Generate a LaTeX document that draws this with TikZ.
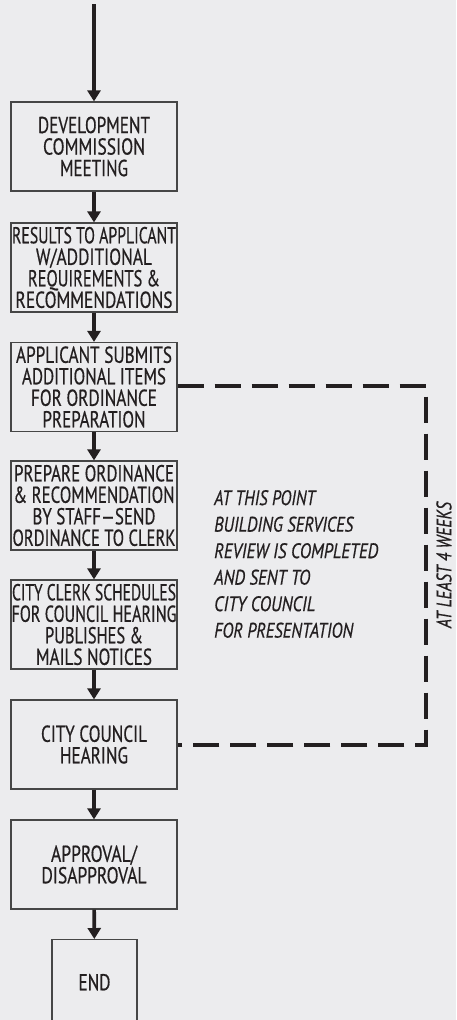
\documentclass[tikz,border=0pt]{standalone}
\usepackage{fontspec}
\usepackage{graphicx}
\setmainfont{PT Sans}[FakeBold=0.6]
\usetikzlibrary{arrows.meta}
\definecolor{bg}{RGB}{236,236,238}
\definecolor{ink}{RGB}{35,31,32}
\definecolor{edge}{RGB}{70,70,70}
\newcommand\fitw[2]{\resizebox{#1pt}{\height}{#2}}
\begin{document}
\begin{tikzpicture}[x=1pt,y=-1pt,
  box/.style={draw=edge, line width=1.2pt, minimum width=166pt, minimum height=89pt,
    inner sep=0pt, align=center, text=ink, font=\fontsize{23}{21.5}\selectfont},
  flow/.style={line width=3.6pt, draw=ink, -{Triangle[length=11pt,width=13pt]}},
  wait/.style={line width=3.2pt, draw=ink, dash pattern=on 26pt off 11pt},
  note/.style={align=left, text=ink, inner sep=0pt, font=\fontsize{21}{26.5}\selectfont\itshape}]
\useasboundingbox (0,0) rectangle (456,1020);
\fill[bg] (0,0) rectangle (456,1020);
\clip (0,0) rectangle (456,1020);
\coordinate (start) at (94,4);
\node[box] (b1) at (94,146.5) {\fitw{112}{DEVELOPMENT}\\\fitw{102}{COMMISSION}\\\fitw{68}{MEETING}};
\node[box] (b2) at (94,267.5) {\fitw{164}{RESULTS TO APPLICANT}\\\fitw{116}{W/ADDITIONAL}\\\fitw{132}{REQUIREMENTS \&}\\\fitw{157}{RECOMMENDATIONS}};
\node[box] (b3) at (94,387) {\fitw{156}{APPLICANT SUBMITS}\\\fitw{144}{ADDITIONAL ITEMS}\\\fitw{126}{FOR ORDINANCE}\\\fitw{103}{PREPARATION}};
\node[box] (b4) at (94,505.5) {\fitw{160}{PREPARE ORDINANCE}\\\fitw{161}{\& RECOMMENDATION}\\\fitw{123}{BY STAFF---SEND}\\\fitw{163}{ORDINANCE TO CLERK}};
\node[box] (b5) at (94,624.5) {\fitw{164}{CITY CLERK SCHEDULES}\\\fitw{165}{FOR COUNCIL HEARING}\\\fitw{98}{PUBLISHES \&}\\\fitw{116}{MAILS NOTICES}};
\node[box] (b6) at (94,744.5) {\fitw{106}{CITY COUNCIL}\\\fitw{68}{HEARING}};
\node[box] (b7) at (94,864.5) {\fitw{86}{APPROVAL/}\\\fitw{105}{DISAPPROVAL}};
\node[box, minimum width=85pt, minimum height=90pt, anchor=north] (b8) at (94.5,939) {\raisebox{5pt}{\fitw{32}{END}}};
\draw[flow] (start) -- (b1);
\draw[flow] (b1) -- (b2);
\draw[flow] (b2) -- (b3);
\draw[flow] (b3) -- (b4);
\draw[flow] (b4) -- (b5);
\draw[flow] (b5) -- (b6);
\draw[flow] (b6) -- (b7);
\draw[flow] (b7) -- (b8);
\coordinate (c1) at (426,386);
\coordinate (c2) at (426,745);
\draw[wait] (b3.east |- c1) -- (c1) -- (c2) -- (b6.east |- c2);
\node[note, anchor=west] (txt) at (214,564) {\fitw{101}{AT THIS POINT}\\\fitw{139}{BUILDING SERVICES}\\\fitw{164}{REVIEW IS COMPLETED}\\\fitw{96}{AND SENT TO}\\\fitw{101}{CITY COUNCIL}\\\fitw{139}{FOR PRESENTATION}};
\node[note, rotate=90, anchor=center] (weeks) at (444,565) {\fitw{126}{AT LEAST 4 WEEKS}};
\end{tikzpicture}
\end{document}
